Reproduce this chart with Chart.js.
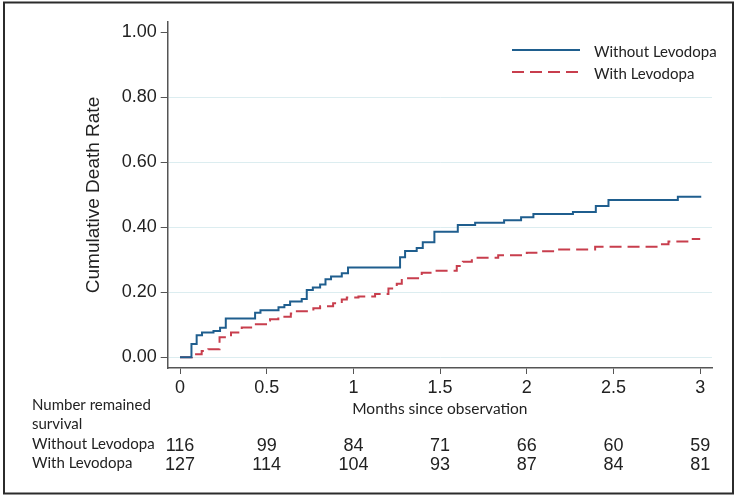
<!DOCTYPE html>
<html>
<head>
<meta charset="utf-8">
<script src="https://cdn.jsdelivr.net/npm/chart.js@4.4.1/dist/chart.umd.min.js"></script>
<style>
  html, body { margin: 0; padding: 0; background: #fff; }
</style>
</head>
<body>
<canvas id="kmChart" width="739" height="498"></canvas>
<script>
// axis ticks
const xTicks = [0, 0.5, 1, 1.5, 2, 2.5, 3];
const yTicks = [0, 0.2, 0.4, 0.6, 0.8, 1.0];
const seriesNames = ["Without Levodopa", "With Levodopa"];

// step curves (time in months, cumulative rate after the step)
const withoutTimes = [0, 0.066, 0.096, 0.127, 0.193, 0.231, 0.264, 0.433, 0.464, 0.568, 0.602,
  0.635, 0.702, 0.731, 0.766, 0.808, 0.839, 0.871, 0.933, 0.969, 1.269, 1.298, 1.365, 1.400,
  1.467, 1.602, 1.702, 1.869, 1.967, 2.038, 2.266, 2.398, 2.471, 2.871, 3.006];
const withoutRates = [0, 0.041, 0.068, 0.076, 0.081, 0.091, 0.119, 0.137, 0.145, 0.154, 0.161,
  0.172, 0.179, 0.207, 0.215, 0.224, 0.240, 0.249, 0.259, 0.276, 0.308, 0.327, 0.336, 0.354,
  0.386, 0.407, 0.414, 0.422, 0.431, 0.441, 0.447, 0.466, 0.484, 0.494, 0.494];

const withTimes = [0, 0.068, 0.125, 0.163, 0.228, 0.294, 0.356, 0.423, 0.496, 0.519, 0.567,
  0.639, 0.663, 0.769, 0.808, 0.883, 0.933, 0.962, 1.029, 1.125, 1.202, 1.250, 1.279, 1.394,
  1.452, 1.596, 1.631, 1.683, 1.702, 1.835, 2.000, 2.077, 2.172, 2.394, 2.769, 2.817, 2.933, 3.000];
const withRates = [0, 0.009, 0.019, 0.025, 0.062, 0.076, 0.092, 0.102, 0.113, 0.117, 0.125,
  0.135, 0.142, 0.151, 0.157, 0.166, 0.178, 0.184, 0.187, 0.195, 0.212, 0.226, 0.243, 0.260,
  0.266, 0.281, 0.294, 0.299, 0.306, 0.314, 0.322, 0.326, 0.332, 0.340, 0.348, 0.356, 0.364, 0.364];

// number at risk table
const riskTimes = [0, 0.5, 1, 1.5, 2, 2.5, 3];
const riskWithout = [116, 99, 84, 71, 66, 60, 59];
const riskWith = [127, 114, 104, 93, 87, 84, 81];

const calibriLike = "Lato, 'Open Sans', sans-serif";
const arialLike = "'Liberation Sans', Arial, sans-serif";

function toPoints(times, rates) {
  return times.map((t, i) => ({ x: t, y: rates[i] }));
}

// frame, legend and risk table
const extras = {
  id: "extras",
  afterDraw(chart) {
    const ctx = chart.ctx;
    const xs = chart.scales.x;
    ctx.save();

    ctx.strokeStyle = "#2b2b2b";
    ctx.lineWidth = 2;
    ctx.strokeRect(4, 2.5, 729, 491);

    // legend
    ctx.font = "15px " + calibriLike;
    ctx.textBaseline = "middle";
    ctx.textAlign = "left";
    chart.data.datasets.forEach((ds, i) => {
      const y = 50 + i * 22;
      ctx.strokeStyle = ds.borderColor;
      ctx.lineWidth = ds.borderWidth;
      ctx.setLineDash(ds.borderDash || []);
      ctx.beginPath();
      ctx.moveTo(512, y);
      ctx.lineTo(580, y);
      ctx.stroke();
      ctx.setLineDash([]);
      ctx.fillStyle = "#222";
      ctx.fillText(ds.label, 594, y + 2);
    });

    // risk table
    ctx.fillStyle = "#222";
    ctx.fillText("Number remained", 32, 405);
    ctx.fillText("survival", 32, 424);
    ctx.fillText(seriesNames[0], 32, 444);
    ctx.fillText(seriesNames[1], 32, 463);
    ctx.font = "18px " + arialLike;
    ctx.textAlign = "center";
    riskTimes.forEach((t, i) => {
      const px = xs.getPixelForValue(t);
      ctx.fillText(String(riskWithout[i]), px, 446);
      ctx.fillText(String(riskWith[i]), px, 465);
    });
    ctx.restore();
  }
};

new Chart(document.getElementById("kmChart"), {
  type: "line",
  data: {
    datasets: [
      {
        label: seriesNames[0],
        data: toPoints(withoutTimes, withoutRates),
        borderColor: "#1f5e8e",
        borderWidth: 2,
        stepped: "before",
        pointRadius: 0
      },
      {
        label: seriesNames[1],
        data: toPoints(withTimes, withRates),
        borderColor: "#c83e4d",
        borderWidth: 2,
        borderDash: [12, 6],
        stepped: "before",
        pointRadius: 0
      }
    ]
  },
  options: {
    responsive: false,
    animation: false,
    layout: { padding: { left: 0, top: 22, right: 27, bottom: 80 } },
    plugins: { legend: { display: false }, tooltip: { enabled: false } },
    scales: {
      x: {
        type: "linear",
        min: -0.071,
        max: 3.068,
        afterFit: s => { s.height = 50; },
        afterBuildTicks: s => { s.ticks = xTicks.map(v => ({ value: v })); },
        border: { display: true, color: "#555", width: 1.5 },
        grid: { drawOnChartArea: false, tickLength: 6, tickColor: "#555" },
        ticks: {
          padding: 3,
          autoSkip: false,
          maxRotation: 0,
          color: "#222",
          font: { family: arialLike, size: 18 },
          callback: v => String(v)
        },
        title: {
          display: true,
          text: "Months since observation",
          color: "#222",
          padding: 0,
          font: { family: calibriLike, size: 15.5 }
        }
      },
      y: {
        min: -0.033,
        max: 1.032,
        afterFit: s => { s.width = 167.7; },
        afterBuildTicks: s => { s.ticks = yTicks.map(v => ({ value: v })); },
        border: { display: true, color: "#555", width: 1.5 },
        grid: {
          color: c => (c.tick && c.tick.value >= 1 ? "rgba(0,0,0,0)" : "#dcedf0"),
          lineWidth: 1,
          tickLength: 7,
          tickColor: "#555"
        },
        ticks: {
          padding: 4,
          color: "#222",
          font: { family: arialLike, size: 18 },
          callback: v => Number(v).toFixed(2)
        },
        title: {
          display: true,
          text: "Cumulative Death Rate",
          color: "#222",
          padding: { top: 82, bottom: 0 },
          font: { family: arialLike, size: 19 }
        }
      }
    }
  },
  plugins: [extras]
});
</script>
</body>
</html>
